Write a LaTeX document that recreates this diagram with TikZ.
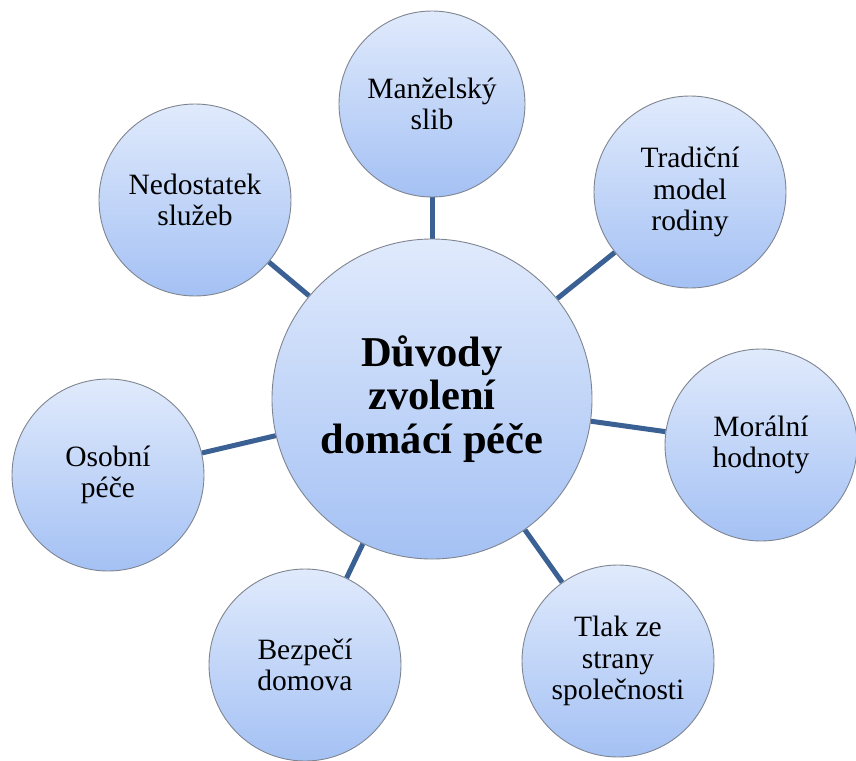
\documentclass[tikz,border=0pt]{standalone}
\usepackage{fontspec}
\setmainfont{Liberation Serif}
\usetikzlibrary{backgrounds}
\definecolor{ctop}{HTML}{E0EAFC}
\definecolor{cbot}{HTML}{A4C1F4}
\definecolor{link}{HTML}{3B6194}
\definecolor{rim}{HTML}{7F8590}
\tikzset{
  bubble/.style={circle, draw=rim, line width=0.9pt, top color=ctop, bottom color=cbot,
    minimum size=192pt, inner sep=0pt, align=center, text=black,
    font=\fontsize{29.5}{31.5}\selectfont},
  hub/.style={bubble, minimum size=320pt, font=\bfseries\fontsize{42.5}{43.5}\selectfont},
  link/.style={draw=link, line width=5pt}
}
\begin{document}
\begin{tikzpicture}[x=1pt,y=-1pt]
\useasboundingbox (0,0) rectangle (856,760);
\node[hub] (c) at (432,399) {Důvody\\zvolení\\domácí péče};
\node[bubble, minimum size=186pt] (a) at (432,104) {Manželský\\slib};
\node[bubble] (b) at (690,192) {Tradiční\\model\\rodiny};
\node[bubble] (m) at (761,445) {Morální\\hodnoty};
\node[bubble] (t) at (618,661) {Tlak ze\\strany\\společnosti};
\node[bubble] (d) at (305,665) {Bezpečí\\domova};
\node[bubble] (o) at (108,475) {Osobní\\péče};
\node[bubble] (n) at (195,200) {Nedostatek\\služeb};
\begin{pgfonlayer}{background}
\foreach \s in {a,b,m,t,d,o,n} \draw[link] (c) -- (\s);
\end{pgfonlayer}
\end{tikzpicture}
\end{document}
